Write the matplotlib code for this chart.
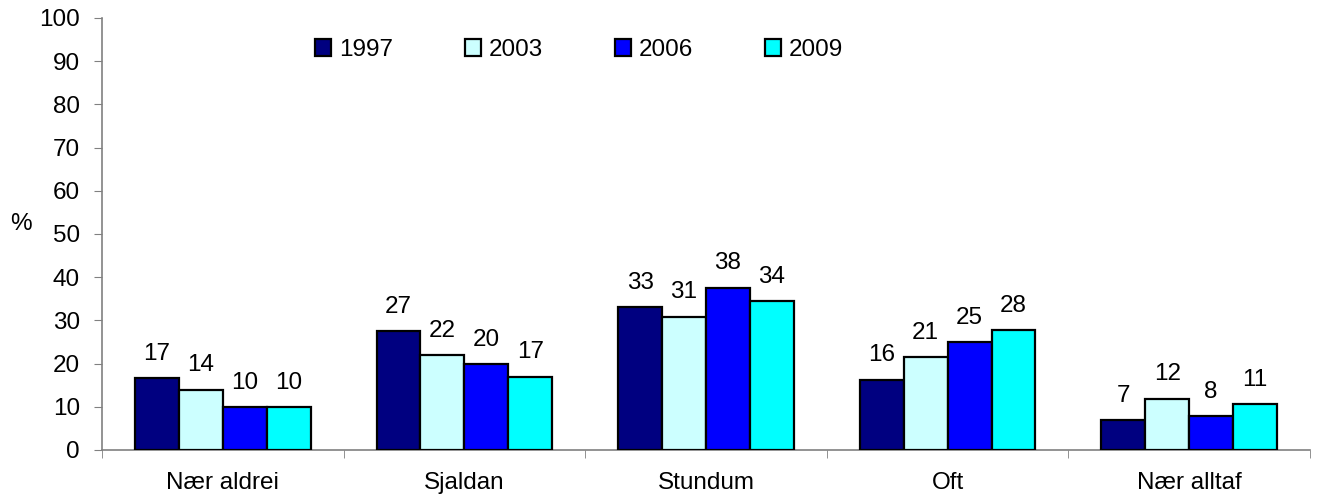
import numpy as np
import matplotlib
matplotlib.use("Agg")
import matplotlib.pyplot as plt
from matplotlib.ticker import FixedLocator

plt.rcParams['font.family'] = ['Liberation Sans', 'DejaVu Sans']

# data
categories = ["Nær aldrei", "Sjaldan", "Stundum", "Oft", "Nær alltaf"]
years = ["1997", "2003", "2006", "2009"]
v1997 = [16.7, 27.5, 33.0, 16.3, 7.0]
v2003 = [14.0, 22.0, 30.9, 21.5, 11.9]
v2006 = [10.0, 19.9, 37.6, 25.0, 7.8]
v2009 = [10.0, 17.0, 34.4, 27.8, 10.6]
labels1997 = ["17", "27", "33", "16", "7"]
labels2003 = ["14", "22", "31", "21", "12"]
labels2006 = ["10", "20", "38", "25", "8"]
labels2009 = ["10", "17", "34", "28", "11"]

series = [v1997, v2003, v2006, v2009]
series_labels = [labels1997, labels2003, labels2006, labels2009]
colors = ["#000080", "#CCFFFF", "#0000FF", "#00FFFF"]
fs = 17.5

fig = plt.figure(figsize=(13.19, 5.0), dpi=100)
ax = fig.add_axes([102/1319, 50/500, 1208/1319, 432/500])

x = np.arange(len(categories))
w = 1 / 5.5
for i, (vals, labs) in enumerate(zip(series, series_labels)):
    pos = x + (i - 1.5) * w
    bars = ax.bar(pos, vals, w, color=colors[i], edgecolor="black",
                  linewidth=1.6, label=years[i], zorder=3)
    for b, lab in zip(bars, labs):
        ax.annotate(lab, (b.get_x() + b.get_width()/2, b.get_height()),
                    xytext=(0, 9.5), textcoords="offset points",
                    ha="center", va="bottom", fontsize=fs)

ax.set_xlim(-0.5, len(categories) - 0.5)
ax.set_ylim(0, 100)
ax.set_yticks(np.arange(0, 101, 10))
ax.set_xticks(x)
ax.set_xticklabels(categories)
ax.xaxis.set_minor_locator(FixedLocator(np.arange(-0.5, len(categories), 1)))
ax.tick_params(axis="x", which="major", length=0, pad=16, labelsize=fs)
ax.tick_params(axis="x", which="minor", length=6, color="#808080", direction="out")
ax.tick_params(axis="y", length=6, color="#808080", labelsize=fs, pad=10)

for s in ["top", "right"]:
    ax.spines[s].set_visible(False)
for s in ["left", "bottom"]:
    ax.spines[s].set_color("#808080")
    ax.spines[s].set_linewidth(1.2)

# "%" sits a bit above the 50 tick, far left
ax.set_ylabel("%", rotation=0, fontsize=fs, va="center", ha="center")
ax.yaxis.set_label_coords(-0.067, 0.523)

leg = ax.legend(ncol=4, loc="center left", bbox_to_anchor=(0.176, 0.926),
                frameon=False, fontsize=fs, handlelength=0.66, handleheight=0.7,
                handletextpad=0.33, columnspacing=2.96, borderpad=0,
                borderaxespad=0)

fig.savefig("out.png", dpi=100)
